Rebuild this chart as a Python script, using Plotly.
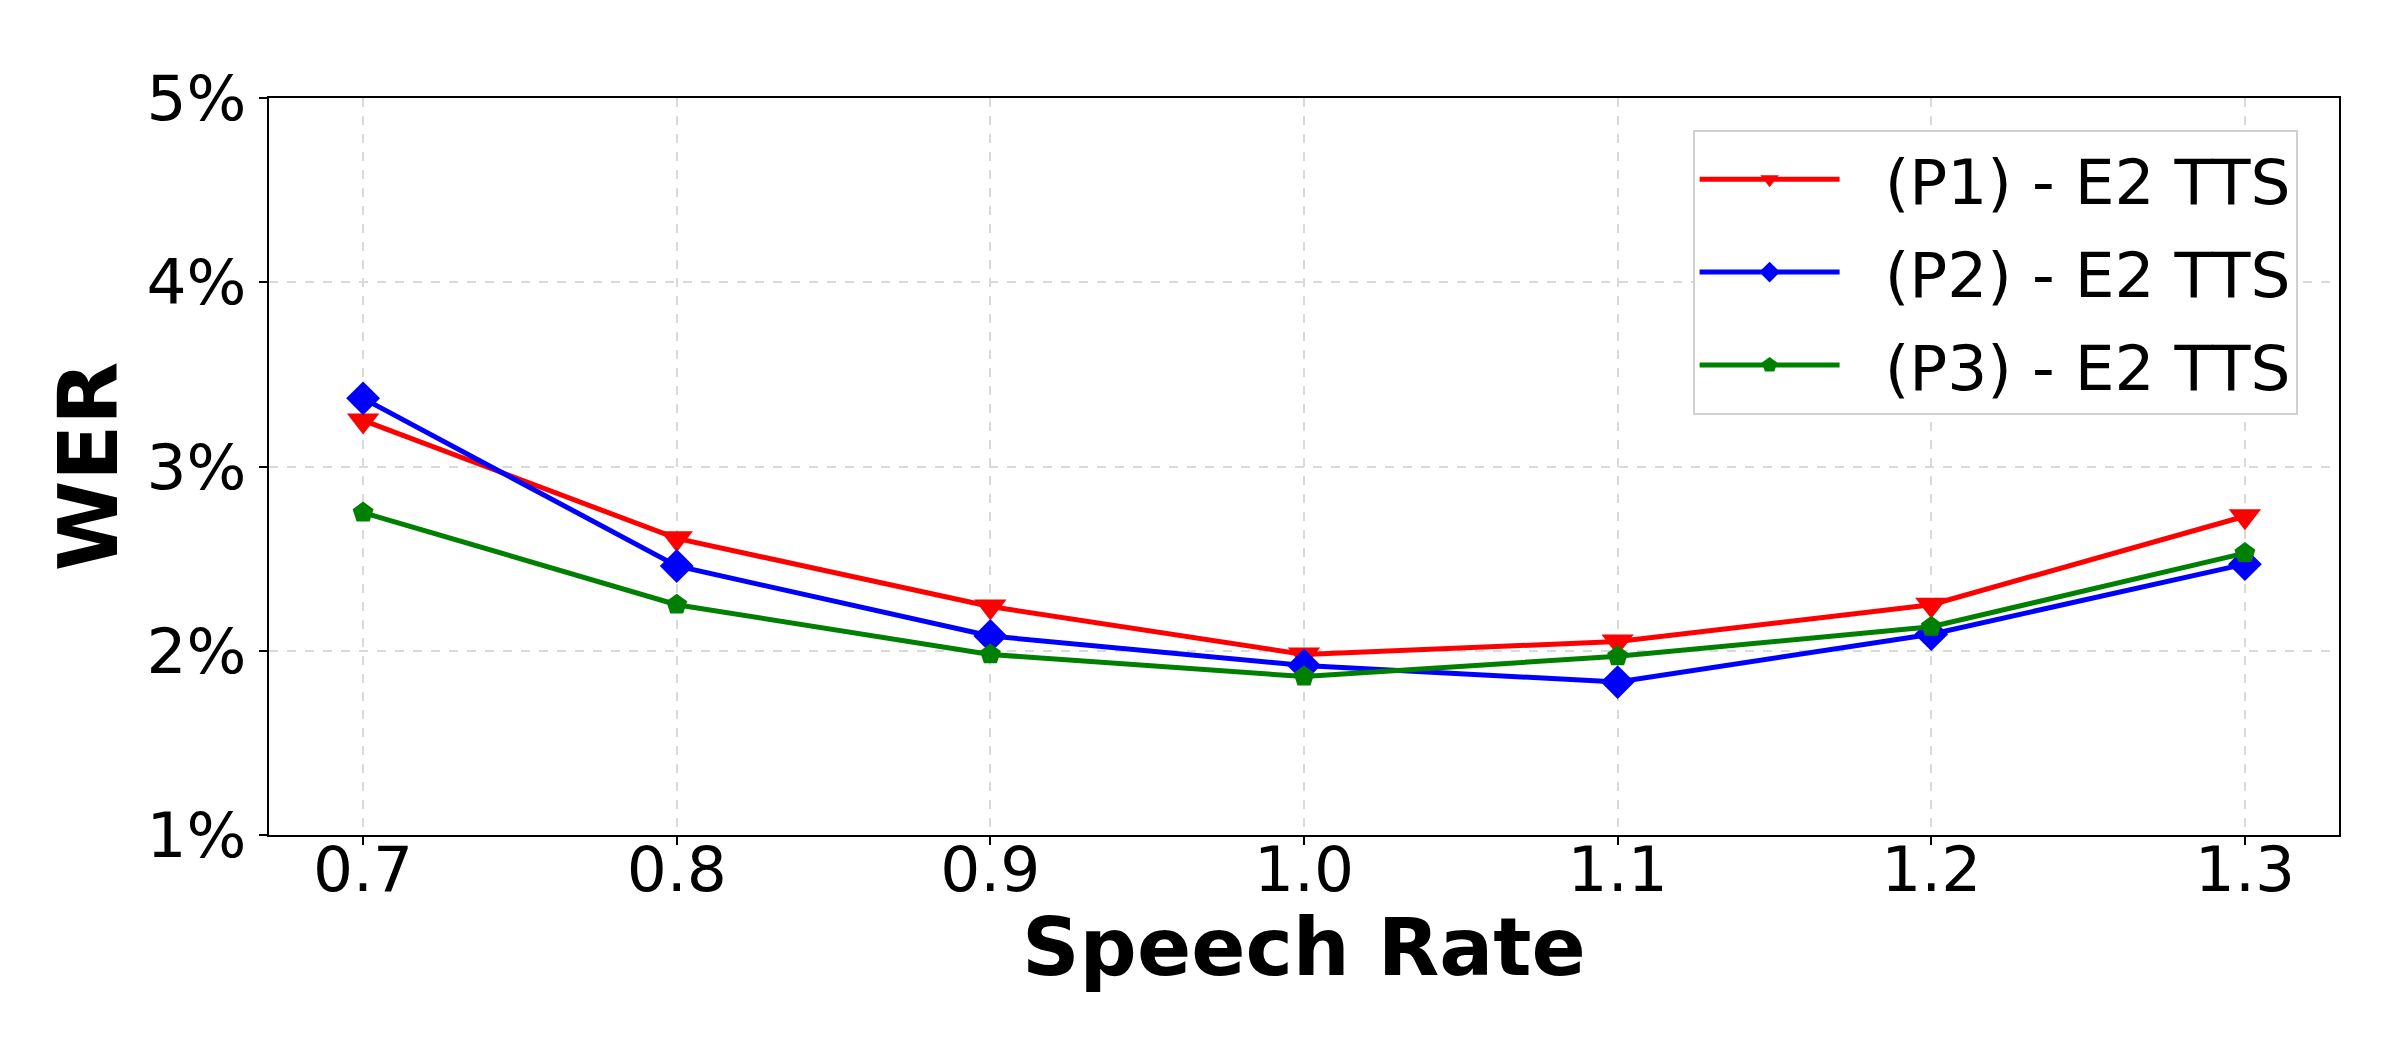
import plotly.graph_objects as go

# speech rate vs WER (%) for three prompt settings
speech_rate = [0.7, 0.8, 0.9, 1.0, 1.1, 1.2, 1.3]
wer_p1 = [3.25, 2.61, 2.24, 1.98, 2.05, 2.25, 2.73]
wer_p2 = [3.37, 2.46, 2.08, 1.92, 1.83, 2.09, 2.47]
wer_p3 = [2.75, 2.25, 1.98, 1.86, 1.97, 2.13, 2.53]
names = ['(P1) - E2 TTS', '(P2) - E2 TTS', '(P3) - E2 TTS']
y_ticks = [1, 2, 3, 4, 5]
y_ticktext = [f'{v}%' for v in y_ticks]

font = 'DejaVu Sans'
pad = '\u00a0\u00a0'  # gap between legend line and label

fig = go.Figure()
styles = [
    (wer_p1, 'red', 'triangle-down', 28),
    (wer_p2, 'blue', 'diamond', 26),
    (wer_p3, 'green', 'pentagon', 22),
]
for i, ((vals, color, sym, size), name) in enumerate(zip(styles, names)):
    fig.add_trace(go.Scatter(x=speech_rate, y=vals, name=pad + name, mode='lines+markers',
                             legendgroup=f'g{i}',
                             line=dict(color=color, width=5),
                             marker=dict(symbol=sym, size=size, color=color)))

axis_common = dict(showline=True, linecolor='black', linewidth=2, mirror=True,
                   ticks='outside', ticklen=8, tickwidth=2, tickcolor='black',
                   showgrid=True, gridcolor='#d9d9d9', gridwidth=1.5, griddash='dash',
                   zeroline=False, tickfont=dict(family=font, size=63, color='black'))

fig.update_xaxes(range=[0.67, 1.33], tickvals=speech_rate, tickformat='.1f',
                 ticklabelstandoff=-30, **axis_common)
fig.update_yaxes(range=[1, 5], tickvals=y_ticks, ticktext=y_ticktext,
                 title=dict(text='<b>WER</b>', standoff=2,
                            font=dict(family=font, size=82, color='black')),
                 **axis_common)

# x-axis title placed as an annotation so it sits close under the tick labels
fig.add_annotation(text='<b>Speech Rate</b>', xref='paper', yref='paper', x=0.5, y=0,
                   xanchor='center', yanchor='middle', yshift=-112, showarrow=False,
                   font=dict(family=font, size=80, color='black'))

fig.update_layout(
    width=2400, height=1050,
    margin=dict(l=261, r=69, t=90, b=223),
    plot_bgcolor='white', paper_bgcolor='white',
    font=dict(family=font, color='black'),
    legend=dict(x=0.98, y=0.957, xanchor='right', yanchor='top',
                bgcolor='white', bordercolor='#d0d0d0', borderwidth=2,
                font=dict(family=font, size=63, color='black'),
                itemwidth=140, tracegroupgap=8),
)

fig.write_html("out.html")
